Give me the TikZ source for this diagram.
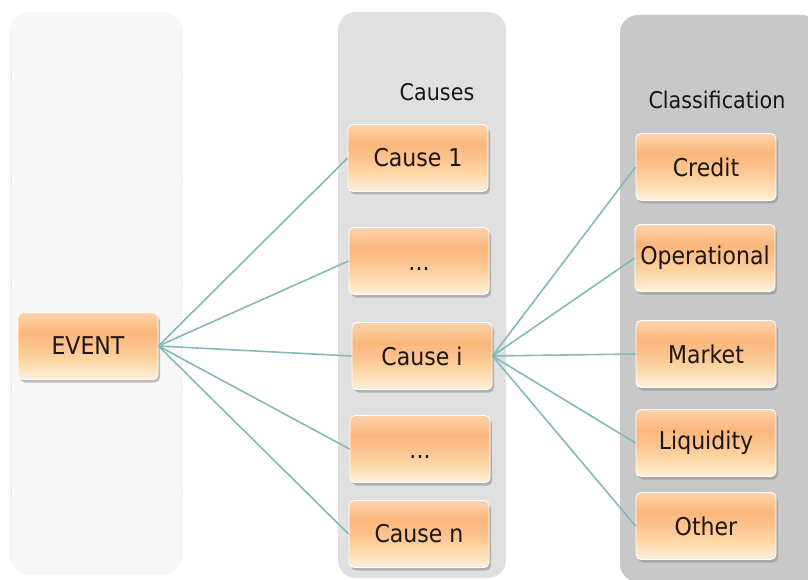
\documentclass[tikz,border=0pt]{standalone}
\usepackage{fontspec}
\setmainfont{DejaVu Sans}[FakeStretch=0.9]
\usetikzlibrary{shadows}
\definecolor{panelA}{HTML}{F8F8F8}
\definecolor{panelB}{HTML}{E0E0E0}
\definecolor{panelC}{HTML}{C8C8C8}
\definecolor{boxorange}{HTML}{FBB77A}
\definecolor{boxpale}{HTML}{FDD9A8}
\definecolor{linkcol}{HTML}{84BABC}
\definecolor{textcol}{HTML}{1C1612}
\pgfdeclareverticalshading{boxshade}{100bp}{color(0bp)=(white); color(14bp)=(white); color(26bp)=(boxpale!45); color(38bp)=(boxpale); color(50bp)=(boxorange!85); color(60bp)=(boxorange); color(74bp)=(boxorange!65); color(88bp)=(boxpale!45); color(95bp)=(white); color(100bp)=(white)}
% dots sitting a little below the middle of their box
\newcommand{\lowdots}{\raisebox{-9pt}[0pt][0pt]{...}}
\tikzset{
  panel/.style={rounded corners=18pt},
  itembox/.style={rounded corners=5pt, shading=boxshade, draw=white, line width=0.8pt,
    minimum width=140pt, minimum height=67pt, inner sep=0pt, text=textcol,
    drop shadow={shadow xshift=2pt, shadow yshift=-3pt, opacity=0.55, fill=black!45},
    font=\fontsize{24.5}{28}\selectfont},
  heading/.style={font=\fontsize{23}{27}\selectfont, inner sep=0pt, text=textcol},
  link/.style={draw=linkcol, line width=1.6pt}
}
\begin{document}
\begin{tikzpicture}[x=1pt, y=-1pt]
\useasboundingbox (0,0) rectangle (808,580);
\fill[white] (0,0) rectangle (808,580);

% column panels
\fill[panelA, panel] (10,12) rectangle (182,575);
\draw[black!12, line width=0.6pt, dotted] (11,30) -- (11,560) (181,30) -- (181,560);
\fill[panelB, panel] (338,12) rectangle (506,578);
\fill[panelC, panel] (620,15) rectangle (820,582);

% headings
\node[heading] (hcauses) at (437,92) {Causes};
\node[heading] (hclass) at (717,100) {Classification};

% boxes
\node[itembox] (event) at (88,346) {EVENT};
\node[itembox] (c1) at (418,158) {Cause 1};
\node[itembox] (c2) at (419,261) {\lowdots};
\node[itembox] (ci) at (422,356) {Cause i};
\node[itembox] (c4) at (420,449) {\lowdots};
\node[itembox] (cn) at (419,534) {Cause n};

\node[itembox] (credit) at (706,167) {Credit};
\node[itembox] (oper) at (705,258) {Operational};
\node[itembox] (market) at (706,354) {Market};
\node[itembox] (liq) at (706,443) {Liquidity};
\node[itembox] (other) at (706,526) {Other};

% connectors
\foreach \c in {c1,c2,ci,c4,cn} \draw[link] (event.east) -- (\c.west);
\foreach \c in {credit,oper,market,liq,other} \draw[link] (ci.east) -- (\c.west);
\end{tikzpicture}
\end{document}
